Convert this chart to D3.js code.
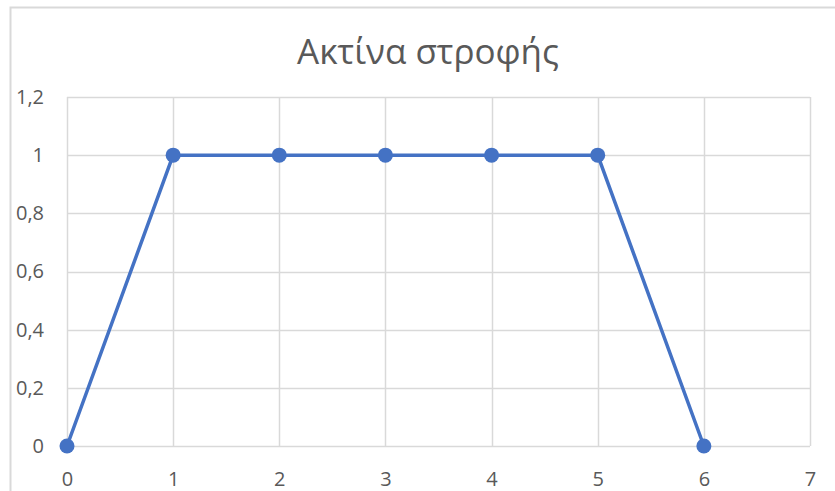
<!DOCTYPE html>
<html>
<head>
<meta charset="utf-8">
<script src="https://cdn.jsdelivr.net/npm/d3@7"></script>
<style>
  html, body { margin: 0; padding: 0; background: #fff; }
  svg { display: block; }
</style>
</head>
<body>
<svg id="chart" width="835" height="491"></svg>
<script>
// Turning radius profile
const xValues = [0, 1, 2, 3, 4, 5, 6];
const yValues = [0, 1, 1, 1, 1, 1, 0];
const xTicks = [0, 1, 2, 3, 4, 5, 6, 7];
const yTicks = [0, 0.2, 0.4, 0.6, 0.8, 1, 1.2];
const title = "Ακτίνα στροφής";

const svg = d3.select("#chart");
const W = 835, H = 491;
const m = { left: 67, right: 25, top: 97, bottom: 45 };

const x = d3.scaleLinear().domain([0, 7]).range([m.left, W - m.right]);
const y = d3.scaleLinear().domain([0, 1.2]).range([H - m.bottom, m.top]);
const fmt = v => String(+v.toFixed(1)).replace(".", ",");
const font = "'Open Sans', 'Segoe UI', sans-serif";

// outer chart border
svg.append("rect")
  .attr("x", 10.5).attr("y", 7.5)
  .attr("width", W + 10).attr("height", H + 10)
  .attr("fill", "none").attr("stroke", "#d9d9d9").attr("stroke-width", 2);

// title
svg.append("text")
  .attr("x", 428).attr("y", 64)
  .attr("text-anchor", "middle")
  .attr("font-family", font).attr("font-size", 35)
  .attr("fill", "#595959")
  .text(title);

// horizontal gridlines
svg.append("g")
  .selectAll("line").data(yTicks).join("line")
  .attr("x1", x(0)).attr("x2", x(7))
  .attr("y1", d => Math.round(y(d)) + 0.5).attr("y2", d => Math.round(y(d)) + 0.5)
  .attr("stroke", "#d9d9d9").attr("stroke-width", 1.5);

// vertical gridlines
svg.append("g")
  .selectAll("line").data(xTicks).join("line")
  .attr("x1", d => Math.round(x(d)) + 0.5).attr("x2", d => Math.round(x(d)) + 0.5)
  .attr("y1", y(1.2)).attr("y2", y(0))
  .attr("stroke", "#d9d9d9").attr("stroke-width", 1.5);

// y-axis labels
const yAxis = d3.axisLeft(y).tickValues(yTicks).tickFormat(fmt).tickSize(0).tickPadding(23);
svg.append("g").attr("transform", `translate(${x(0)},0)`).call(yAxis)
  .call(g => g.select(".domain").remove())
  .call(g => g.selectAll("text")
    .attr("font-family", font).attr("font-size", 20).attr("fill", "#595959"));

// x-axis labels
const xAxis = d3.axisBottom(x).tickValues(xTicks).tickFormat(fmt).tickSize(0);
svg.append("g").attr("transform", `translate(0,${y(0)})`).call(xAxis)
  .call(g => g.select(".domain").remove())
  .call(g => g.selectAll("text")
    .attr("y", 40).attr("dy", 0)
    .attr("font-family", font).attr("font-size", 20).attr("fill", "#595959"));

// data line
const pts = xValues.map((v, i) => [v, yValues[i]]);
svg.append("path")
  .datum(pts)
  .attr("fill", "none")
  .attr("stroke", "#4472c4")
  .attr("stroke-width", 3.5)
  .attr("stroke-linejoin", "round")
  .attr("d", d3.line().x(d => x(d[0])).y(d => y(d[1])));

// markers
svg.append("g")
  .selectAll("circle").data(pts).join("circle")
  .attr("cx", d => x(d[0])).attr("cy", d => y(d[1]))
  .attr("r", 7.5)
  .attr("fill", "#4472c4");
</script>
</body>
</html>
